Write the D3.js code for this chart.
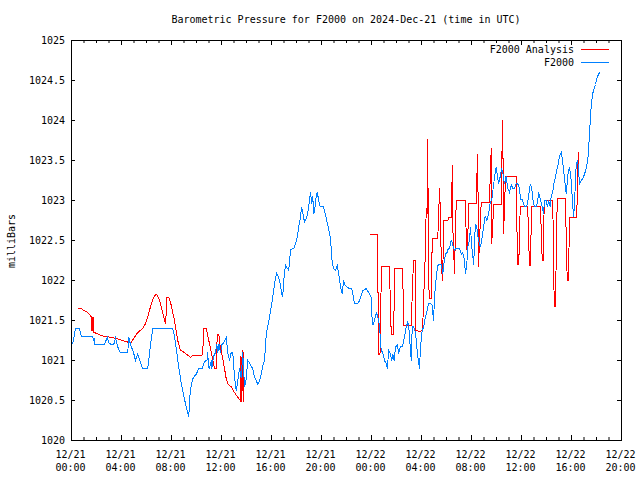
<!DOCTYPE html>
<html><head><meta charset="utf-8">
<script src="https://cdn.jsdelivr.net/npm/d3@7"></script>
<style>
body{margin:0;background:#fff}
svg{display:block}
text{font-family:"DejaVu Sans Mono",monospace;font-size:10px;fill:#000}
</style>
</head><body><svg id="chart" width="640" height="480"></svg>
<script>
const titleText = "Barometric Pressure for F2000 on 2024-Dec-21 (time in UTC)";
const yAxisTitle = "milliBars";
const seriesNames = ["F2000 Analysis", "F2000"];
const seriesColors = ["#ff0000", "#0080ff"];
const xTickHours = [0, 4, 8, 12, 16, 20, 24, 28, 32, 36, 40, 44];
const xTickDates = ["12/21","12/21","12/21","12/21","12/21","12/21","12/22","12/22","12/22","12/22","12/22","12/22"];
const xTickTimes = ["00:00","04:00","08:00","12:00","16:00","20:00","00:00","04:00","08:00","12:00","16:00","20:00"];
const yTickValues = [1020, 1020.5, 1021, 1021.5, 1022, 1022.5, 1023, 1023.5, 1024, 1024.5, 1025];

// F2000 observations: [hours since 12/21 00:00 UTC, millibars]
const f2000 = [[0.10,1021.21],[0.32,1021.40],[0.64,1021.40],[0.78,1021.30],[1.70,1021.30],[1.76,1021.24],[1.80,1021.28],[1.84,1021.20],[2.64,1021.20],[2.86,1021.29],[3.00,1021.22],[3.18,1021.20],[3.38,1021.20],[3.52,1021.28],[3.70,1021.17],[3.90,1021.10],[4.50,1021.10],[4.58,1021.29],[4.72,1021.20],[4.96,1021.10],[5.12,1021.00],[5.30,1021.08],[5.50,1020.98],[5.70,1020.90],[6.10,1020.90],[6.30,1021.17],[6.50,1021.40],[8.10,1021.40],[8.24,1021.31],[8.42,1021.10],[8.58,1020.92],[8.78,1020.71],[8.90,1020.62],[9.12,1020.46],[9.26,1020.37],[9.38,1020.30],[9.50,1020.62],[9.66,1020.75],[9.76,1020.79],[9.98,1020.83],[10.18,1020.90],[10.46,1020.90],[10.58,1020.96],[10.72,1021.00],[10.84,1021.00],[10.90,1021.10],[10.96,1020.92],[11.04,1020.90],[11.18,1021.00],[11.22,1020.90],[11.36,1021.05],[11.52,1021.10],[11.62,1021.21],[11.70,1021.10],[11.80,1021.20],[11.92,1021.10],[12.04,1021.20],[12.16,1021.22],[12.38,1021.29],[12.50,1021.10],[12.64,1021.00],[12.78,1021.10],[12.90,1021.10],[13.04,1020.79],[13.18,1020.62],[13.30,1020.74],[13.44,1020.90],[13.58,1020.78],[13.70,1021.10],[13.84,1020.67],[13.98,1020.77],[14.10,1021.00],[14.24,1020.97],[14.38,1020.92],[14.50,1020.90],[14.64,1020.79],[14.78,1020.75],[14.90,1020.70],[15.04,1020.75],[15.18,1020.83],[15.30,1020.93],[15.44,1021.00],[15.58,1021.33],[15.84,1021.54],[16.10,1021.79],[16.32,1022.04],[16.42,1022.09],[16.58,1022.04],[16.70,1021.95],[16.82,1021.83],[16.90,1021.80],[16.98,1022.00],[17.12,1022.19],[17.26,1022.15],[17.38,1022.13],[17.52,1022.38],[17.66,1022.40],[17.78,1022.40],[17.92,1022.46],[18.06,1022.54],[18.18,1022.67],[18.32,1022.79],[18.40,1022.92],[18.50,1022.85],[18.64,1022.73],[18.78,1022.77],[18.90,1022.85],[19.04,1023.00],[19.12,1023.10],[19.22,1022.96],[19.30,1023.06],[19.38,1022.83],[19.52,1022.96],[19.58,1023.06],[19.66,1023.10],[19.78,1023.00],[19.90,1022.92],[20.16,1022.92],[20.30,1022.83],[20.42,1022.75],[20.56,1022.65],[20.70,1022.54],[20.78,1022.40],[20.86,1022.21],[20.98,1022.15],[21.12,1022.13],[21.26,1022.19],[21.38,1022.08],[21.52,1021.92],[21.66,1021.83],[21.76,1022.00],[21.90,1021.94],[22.02,1021.92],[22.24,1021.90],[22.42,1021.90],[22.56,1021.79],[22.64,1021.71],[22.90,1021.71],[23.04,1021.75],[23.30,1021.87],[23.58,1021.90],[23.84,1021.83],[23.98,1021.79],[24.02,1021.58],[24.10,1021.44],[24.24,1021.50],[24.38,1021.60],[24.50,1021.55],[24.64,1021.44],[24.70,1021.29],[24.78,1021.12],[24.90,1021.10],[25.04,1021.00],[25.18,1020.96],[25.26,1020.90],[25.38,1021.12],[25.52,1021.08],[25.62,1021.00],[25.70,1021.08],[25.82,1021.00],[25.92,1021.17],[26.06,1021.19],[26.18,1021.10],[26.32,1021.17],[26.46,1021.17],[26.64,1021.29],[26.78,1021.42],[26.90,1021.48],[26.98,1021.42],[27.10,1021.17],[27.18,1021.00],[27.26,1021.42],[27.38,1021.42],[27.52,1021.35],[27.62,1021.17],[27.74,1021.00],[27.84,1020.90],[27.92,1021.17],[28.06,1021.38],[28.18,1021.42],[28.30,1021.54],[28.42,1021.60],[28.56,1021.71],[28.72,1021.71],[28.86,1021.69],[28.96,1021.50],[29.06,1021.83],[29.18,1022.04],[29.30,1022.19],[29.44,1022.20],[29.58,1022.20],[29.70,1022.08],[29.82,1022.25],[29.92,1022.33],[30.06,1022.35],[30.14,1022.40],[30.24,1022.40],[30.38,1022.50],[30.46,1022.48],[30.56,1022.40],[30.64,1022.38],[30.78,1022.40],[30.90,1022.40],[31.04,1022.40],[31.18,1022.33],[31.30,1022.35],[31.42,1022.27],[31.52,1022.08],[31.62,1022.19],[31.70,1022.42],[31.84,1022.50],[31.92,1022.67],[32.00,1022.46],[32.10,1022.31],[32.18,1022.20],[32.24,1022.50],[32.32,1022.71],[32.42,1022.67],[32.56,1022.50],[32.70,1022.42],[32.82,1022.50],[32.96,1022.67],[33.10,1022.81],[33.22,1022.75],[33.36,1022.83],[33.50,1022.98],[33.62,1023.00],[33.76,1023.19],[33.90,1023.35],[33.98,1023.42],[34.08,1023.30],[34.16,1023.21],[34.30,1023.30],[34.42,1023.40],[34.50,1023.35],[34.64,1023.21],[34.78,1023.30],[34.90,1023.15],[35.04,1023.10],[35.18,1023.20],[35.30,1023.15],[35.44,1023.15],[35.58,1023.21],[35.70,1023.21],[35.84,1023.15],[35.92,1023.01],[36.06,1023.01],[36.16,1022.96],[36.30,1022.92],[36.42,1022.92],[36.56,1023.04],[36.64,1023.15],[36.72,1023.21],[36.82,1023.15],[36.90,1023.02],[37.04,1022.92],[37.18,1022.92],[37.30,1023.00],[37.38,1023.10],[37.52,1023.00],[37.66,1022.92],[37.76,1022.83],[37.84,1023.00],[37.98,1023.00],[38.06,1022.92],[38.18,1023.00],[38.30,1022.92],[38.38,1023.06],[38.50,1023.10],[38.58,1023.21],[38.72,1023.29],[38.82,1023.38],[38.94,1023.46],[39.04,1023.56],[39.18,1023.60],[39.30,1023.48],[39.44,1023.27],[39.58,1023.08],[39.70,1023.31],[39.84,1023.42],[39.98,1023.25],[40.10,1022.92],[40.18,1022.80],[40.26,1023.04],[40.38,1023.46],[40.50,1023.50],[40.64,1023.21],[40.78,1023.25],[40.90,1023.27],[41.04,1023.33],[41.18,1023.40],[41.30,1023.50],[41.38,1023.67],[41.50,1024.00],[41.60,1024.23],[41.72,1024.35],[41.92,1024.45],[42.08,1024.55],[42.24,1024.60]];

// F2000 Analysis, first run (12/21 00:30 - 13:45)
const analysisDay1 = [[0.48,1021.65],[0.78,1021.65],[1.04,1021.62],[1.30,1021.60],[1.52,1021.56],[1.60,1021.54],[1.61,1021.37],[1.68,1021.37],[1.69,1021.54],[1.76,1021.54],[1.77,1021.35],[1.84,1021.35],[2.24,1021.32],[2.64,1021.30],[3.18,1021.29],[3.70,1021.27],[4.10,1021.25],[4.50,1021.23],[4.78,1021.23],[5.04,1021.29],[5.30,1021.35],[5.70,1021.40],[5.92,1021.46],[6.10,1021.54],[6.38,1021.71],[6.64,1021.81],[6.82,1021.83],[7.04,1021.75],[7.30,1021.60],[7.52,1021.46],[7.58,1021.60],[7.62,1021.79],[7.78,1021.79],[7.98,1021.69],[8.24,1021.50],[8.50,1021.25],[8.70,1021.13],[9.04,1021.10],[9.50,1021.04],[9.70,1021.06],[10.10,1021.06],[10.50,1021.07],[10.56,1021.40],[10.78,1021.40],[10.90,1021.31],[11.04,1021.21],[11.18,1021.10],[11.44,1020.90],[11.58,1020.90],[11.66,1021.33],[11.78,1021.33],[11.90,1021.17],[12.06,1021.06],[12.24,1020.90],[12.38,1020.77],[12.50,1020.71],[12.78,1020.67],[13.04,1020.60],[13.30,1020.54],[13.50,1020.50],[13.56,1021.05],[13.62,1020.48],[13.72,1021.13],[13.76,1020.48]];

// F2000 Analysis, second run (12/21 23:55 - 12/22 16:35)
const analysisDay2 = [[23.92,1022.57],[23.98,1022.58],[24.50,1022.58],[24.52,1021.85],[24.58,1021.85],[24.60,1021.08],[24.68,1021.08],[24.72,1021.62],[24.82,1022.18],[25.44,1022.18],[25.50,1021.75],[25.58,1021.33],[25.78,1021.33],[25.84,1022.15],[26.50,1022.15],[26.56,1021.44],[27.18,1021.44],[27.26,1021.83],[27.36,1022.25],[27.50,1022.25],[27.52,1021.38],[27.84,1021.36],[28.10,1021.38],[28.16,1021.83],[28.24,1021.95],[28.38,1022.90],[28.44,1022.80],[28.50,1023.77],[28.56,1022.00],[28.64,1021.77],[28.78,1021.77],[28.86,1022.52],[29.30,1022.52],[29.38,1022.88],[29.46,1023.15],[29.54,1022.50],[29.66,1022.00],[29.70,1022.00],[29.76,1022.75],[30.10,1022.75],[30.18,1022.79],[30.40,1022.79],[30.46,1023.44],[30.52,1022.60],[30.64,1022.08],[30.70,1022.50],[30.78,1023.00],[31.52,1023.00],[31.58,1022.50],[31.68,1022.30],[31.76,1022.96],[32.38,1022.96],[32.42,1023.25],[32.50,1023.58],[32.56,1022.17],[32.64,1022.50],[32.78,1022.98],[33.44,1022.98],[33.50,1023.31],[33.58,1023.65],[33.62,1022.46],[33.70,1022.70],[33.78,1022.95],[34.38,1022.95],[34.42,1023.48],[34.50,1024.00],[34.56,1022.58],[34.64,1022.90],[34.72,1023.30],[35.58,1023.30],[35.62,1022.75],[35.70,1022.20],[35.78,1022.20],[35.84,1022.55],[35.90,1022.93],[36.50,1022.93],[36.56,1022.55],[36.64,1022.19],[36.72,1022.19],[36.80,1022.93],[37.52,1022.93],[37.58,1022.60],[37.66,1022.25],[37.74,1022.25],[37.82,1023.00],[38.50,1023.00],[38.56,1022.33],[38.62,1021.67],[38.72,1021.67],[38.78,1022.33],[38.86,1023.02],[39.52,1023.02],[39.58,1022.50],[39.66,1022.00],[39.76,1022.00],[39.84,1022.79],[40.42,1022.79],[40.48,1023.21],[40.54,1023.60],[40.56,1023.30]];

const svg = d3.select("#chart");
const L = 71, R = 621, T = 40, B = 440;
const x = d3.scaleLinear().domain([0, 44]).range([L, R]);
const y = d3.scaleLinear().domain([1020, 1025]).range([B, T]);

// Title
svg.append("text").attr("x", 346).attr("y", 23).attr("text-anchor", "middle").text(titleText);

// Y axis title
svg.append("text").attr("transform", "translate(15,241) rotate(-90)")
  .attr("text-anchor", "middle").text(yAxisTitle);

// Data lines (clip to plot)
svg.append("clipPath").attr("id", "clip").append("rect")
  .attr("x", L).attr("y", T).attr("width", R - L + 1).attr("height", B - T + 1);
const plot = svg.append("g").attr("clip-path", "url(#clip)");
const line = d3.line().x(d => x(d[0]) + 0.5).y(d => y(d[1]) + 0.5);
[analysisDay1, analysisDay2].forEach(seg => {
  plot.append("path").attr("d", line(seg)).attr("fill", "none")
    .attr("stroke", seriesColors[0]).attr("stroke-width", 1)
    .attr("shape-rendering", "crispEdges");
});
plot.append("path").attr("d", line(f2000)).attr("fill", "none")
  .attr("stroke", seriesColors[1]).attr("stroke-width", 1)
  .attr("shape-rendering", "crispEdges");

// Axes (ticks only; border drawn separately)
const minorHours = d3.range(0, 45).filter(h => h % 4 !== 0);
function styleAxis(g) {
  g.select(".domain").remove();
  g.selectAll(".tick line").attr("stroke", "#000");
}
const gBottom = svg.append("g").attr("transform", `translate(0,${B})`)
  .call(d3.axisBottom(x).tickValues(xTickHours).tickSizeInner(-5).tickSizeOuter(0).tickFormat(""));
styleAxis(gBottom);
gBottom.selectAll(".tick").each(function(d, i) {
  const t = d3.select(this).select("text");
  t.attr("y", null).attr("dy", null).attr("fill", null);
  t.append("tspan").attr("x", -1).attr("y", 18).text(xTickDates[i]);
  t.append("tspan").attr("x", -1).attr("y", 31).text(xTickTimes[i]);
});
const gBottomMinor = svg.append("g").attr("transform", `translate(0,${B})`)
  .call(d3.axisBottom(x).tickValues(minorHours).tickSizeInner(-3).tickSizeOuter(0).tickFormat(""));
styleAxis(gBottomMinor);
const gTop = svg.append("g").attr("transform", `translate(0,${T})`)
  .call(d3.axisTop(x).tickValues(xTickHours).tickSizeInner(-5).tickSizeOuter(0).tickFormat(""));
styleAxis(gTop);
const gTopMinor = svg.append("g").attr("transform", `translate(0,${T})`)
  .call(d3.axisTop(x).tickValues(minorHours).tickSizeInner(-3).tickSizeOuter(0).tickFormat(""));
styleAxis(gTopMinor);

const gLeft = svg.append("g").attr("transform", `translate(${L},0)`)
  .call(d3.axisLeft(y).tickValues(yTickValues).tickSizeInner(-4).tickSizeOuter(0)
    .tickFormat(d => d3.format("")(d)));
styleAxis(gLeft);
gLeft.selectAll(".tick text").attr("x", -6).attr("dy", null).attr("y", 3.5)
  .attr("fill", null).attr("text-anchor", "end");
const gRight = svg.append("g").attr("transform", `translate(${R},0)`)
  .call(d3.axisRight(y).tickValues(yTickValues).tickSizeInner(-4).tickSizeOuter(0).tickFormat(""));
styleAxis(gRight);

// Border
svg.append("rect").attr("x", L + 0.5).attr("y", T + 0.5).attr("width", R - L).attr("height", B - T)
  .attr("fill", "none").attr("stroke", "#000").attr("stroke-width", 1);

// Legend
seriesNames.forEach((name, i) => {
  const ly = 49 + i * 13;
  svg.append("text").attr("x", 574).attr("y", ly + 4).attr("text-anchor", "end").text(name);
  svg.append("line").attr("x1", 581).attr("x2", 609).attr("y1", ly + 0.5).attr("y2", ly + 0.5)
    .attr("stroke", seriesColors[i]).attr("stroke-width", 1);
});
</script>
</body></html>
